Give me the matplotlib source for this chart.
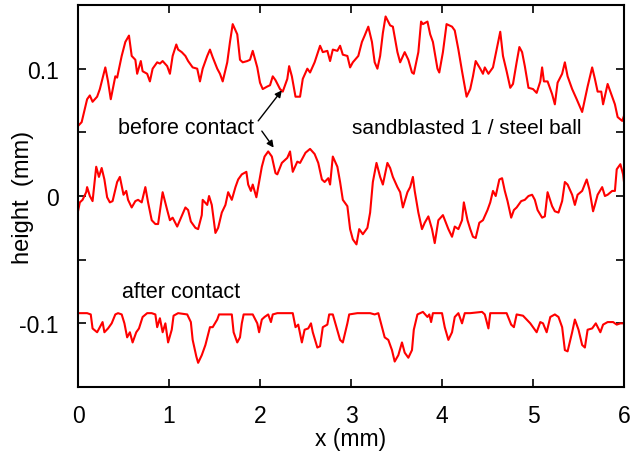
import matplotlib
matplotlib.use("Agg")
import matplotlib.pyplot as plt

plt.rcParams['font.family'] = ['Liberation Sans', 'DejaVu Sans']

# Profile before contact (upper trace), mm
top_x = [0.00, 0.04, 0.10, 0.13, 0.16, 0.21, 0.24, 0.30, 0.33, 0.36, 0.41, 0.43, 0.48, 0.52,
         0.56, 0.59, 0.63, 0.65, 0.69, 0.71, 0.76, 0.79, 0.82, 0.87, 0.90, 0.93, 0.98, 1.01,
         1.04, 1.08, 1.10, 1.14, 1.18, 1.21, 1.26, 1.31, 1.34, 1.37, 1.42, 1.45, 1.48, 1.53,
         1.56, 1.59, 1.64, 1.67, 1.70, 1.75, 1.78, 1.81, 1.86, 1.89, 1.92, 1.97, 2.00, 2.03,
         2.08, 2.11, 2.14, 2.17, 2.22, 2.25, 2.30, 2.32, 2.35, 2.39, 2.44, 2.47, 2.52, 2.55,
         2.60, 2.66, 2.69, 2.74, 2.77, 2.80, 2.85, 2.88, 2.91, 2.96, 2.99, 3.02, 3.08, 3.12,
         3.15, 3.19, 3.23, 3.26, 3.29, 3.32, 3.35, 3.38, 3.43, 3.46, 3.51, 3.54, 3.59, 3.63,
         3.67, 3.69, 3.74, 3.77, 3.79, 3.84, 3.87, 3.90, 3.95, 3.97, 4.01, 4.05, 4.11, 4.14,
         4.18, 4.22, 4.27, 4.31, 4.34, 4.37, 4.42, 4.45, 4.47, 4.51, 4.56, 4.60, 4.64, 4.67,
         4.71, 4.75, 4.78, 4.82, 4.85, 4.88, 4.91, 4.95, 5.00, 5.04, 5.08, 5.10, 5.12, 5.16,
         5.21, 5.24, 5.27, 5.32, 5.35, 5.38, 5.43, 5.48, 5.54, 5.57, 5.60, 5.65, 5.68, 5.71,
         5.75, 5.77, 5.82, 5.87, 5.90, 5.93, 5.98, 6.00]
top_y = [0.055, 0.058, 0.076, 0.079, 0.074, 0.078, 0.084, 0.101, 0.090, 0.076, 0.094, 0.093, 0.110, 0.121,
         0.126, 0.110, 0.107, 0.096, 0.106, 0.098, 0.096, 0.090, 0.100, 0.105, 0.104, 0.106, 0.102, 0.096,
         0.110, 0.119, 0.115, 0.113, 0.110, 0.106, 0.101, 0.100, 0.090, 0.100, 0.110, 0.115, 0.109, 0.100,
         0.096, 0.090, 0.105, 0.121, 0.135, 0.127, 0.107, 0.105, 0.106, 0.107, 0.114, 0.101, 0.089, 0.084,
         0.086, 0.087, 0.094, 0.091, 0.084, 0.082, 0.092, 0.102, 0.094, 0.078, 0.078, 0.092, 0.100, 0.097,
         0.105, 0.118, 0.113, 0.114, 0.106, 0.115, 0.114, 0.118, 0.111, 0.110, 0.101, 0.105, 0.110, 0.121,
         0.126, 0.133, 0.121, 0.105, 0.100, 0.110, 0.128, 0.141, 0.134, 0.133, 0.113, 0.105, 0.113, 0.107,
         0.097, 0.096, 0.113, 0.137, 0.135, 0.137, 0.127, 0.121, 0.100, 0.097, 0.113, 0.135, 0.133, 0.130,
         0.115, 0.098, 0.078, 0.084, 0.094, 0.106, 0.100, 0.096, 0.101, 0.096, 0.101, 0.115, 0.129, 0.110,
         0.098, 0.085, 0.088, 0.105, 0.117, 0.113, 0.102, 0.085, 0.084, 0.081, 0.090, 0.101, 0.090, 0.090,
         0.080, 0.072, 0.089, 0.096, 0.105, 0.094, 0.084, 0.076, 0.066, 0.076, 0.086, 0.101, 0.092, 0.082,
         0.082, 0.072, 0.088, 0.078, 0.072, 0.062, 0.059, 0.063]

# Second profile before contact (middle trace), mm
mid_x = [0.00, 0.02, 0.05, 0.09, 0.10, 0.13, 0.16, 0.20, 0.23, 0.26, 0.29, 0.32, 0.35, 0.38,
         0.43, 0.46, 0.50, 0.53, 0.55, 0.59, 0.63, 0.66, 0.70, 0.74, 0.77, 0.81, 0.85, 0.88,
         0.91, 0.93, 0.98, 1.01, 1.04, 1.09, 1.12, 1.18, 1.21, 1.24, 1.29, 1.32, 1.36, 1.37,
         1.42, 1.44, 1.47, 1.51, 1.54, 1.58, 1.62, 1.65, 1.69, 1.73, 1.76, 1.80, 1.85, 1.87,
         1.90, 1.92, 1.96, 1.99, 2.02, 2.05, 2.09, 2.13, 2.17, 2.19, 2.24, 2.30, 2.33, 2.36,
         2.41, 2.44, 2.50, 2.55, 2.60, 2.64, 2.68, 2.71, 2.75, 2.77, 2.80, 2.85, 2.88, 2.91,
         2.96, 2.99, 3.02, 3.06, 3.09, 3.13, 3.18, 3.21, 3.24, 3.28, 3.32, 3.35, 3.40, 3.43,
         3.46, 3.51, 3.54, 3.57, 3.62, 3.65, 3.68, 3.70, 3.74, 3.78, 3.81, 3.85, 3.89, 3.92,
         3.96, 4.01, 4.07, 4.11, 4.14, 4.18, 4.22, 4.24, 4.28, 4.31, 4.34, 4.37, 4.41, 4.45,
         4.50, 4.53, 4.56, 4.59, 4.63, 4.66, 4.69, 4.72, 4.76, 4.79, 4.82, 4.87, 4.91, 4.95,
         4.99, 5.02, 5.05, 5.10, 5.13, 5.16, 5.21, 5.24, 5.28, 5.32, 5.35, 5.38, 5.43, 5.46,
         5.49, 5.54, 5.59, 5.62, 5.66, 5.68, 5.71, 5.76, 5.79, 5.82, 5.87, 5.90, 5.92, 5.96,
         5.99, 6.00]
mid_y = [-0.012, -0.005, -0.003, 0.003, 0.007, 0.000, -0.004, 0.023, 0.015, 0.022, 0.013, -0.001, -0.005, -0.004,
         0.011, 0.015, 0.001, 0.004, -0.003, -0.009, -0.004, -0.003, -0.005, 0.007, -0.005, -0.019, -0.022, -0.022,
         -0.007, 0.003, -0.011, -0.019, -0.017, -0.024, -0.019, -0.009, -0.011, -0.020, -0.025, -0.026, -0.015, -0.003,
         -0.007, 0.000, -0.007, -0.029, -0.025, -0.013, -0.007, 0.003, -0.003, 0.007, 0.013, 0.017, 0.019, 0.009,
         0.004, 0.009, -0.001, 0.011, 0.023, 0.031, 0.035, 0.031, 0.018, 0.017, 0.026, 0.030, 0.035, 0.019,
         0.027, 0.026, 0.034, 0.037, 0.033, 0.026, 0.013, 0.011, 0.014, 0.009, 0.031, 0.023, 0.011, -0.003,
         -0.008, -0.026, -0.034, -0.038, -0.026, -0.030, -0.025, -0.013, 0.011, 0.026, 0.015, 0.009, 0.026, 0.022,
         0.015, 0.007, 0.003, -0.009, 0.003, 0.007, 0.015, 0.004, -0.013, -0.026, -0.021, -0.016, -0.026, -0.037,
         -0.019, -0.015, -0.026, -0.032, -0.024, -0.026, -0.019, -0.005, -0.019, -0.026, -0.032, -0.033, -0.021, -0.019,
         -0.011, -0.005, 0.004, 0.000, 0.013, 0.014, 0.004, -0.004, -0.017, -0.011, -0.009, -0.004, -0.003, 0.000,
         0.001, -0.003, -0.011, -0.017, -0.016, 0.003, -0.008, -0.012, -0.013, -0.004, 0.011, 0.009, 0.001, -0.007,
         0.001, 0.004, 0.013, 0.005, -0.012, -0.007, 0.001, 0.007, 0.000, 0.001, 0.004, 0.004, 0.021, 0.025,
         0.017, 0.011]

# Profile after contact (lower trace), mm
bot_x = [0.00, 0.10, 0.14, 0.16, 0.21, 0.24, 0.27, 0.29, 0.33, 0.37, 0.41, 0.44, 0.48, 0.51,
         0.54, 0.57, 0.60, 0.64, 0.67, 0.71, 0.76, 0.81, 0.85, 0.87, 0.90, 0.93, 0.96, 0.99,
         1.03, 1.05, 1.10, 1.20, 1.24, 1.26, 1.30, 1.32, 1.36, 1.40, 1.45, 1.48, 1.53, 1.55,
         1.62, 1.69, 1.71, 1.75, 1.78, 1.80, 1.82, 1.87, 1.92, 1.97, 1.99, 2.02, 2.05, 2.09,
         2.12, 2.14, 2.19, 2.36, 2.39, 2.42, 2.46, 2.49, 2.53, 2.56, 2.58, 2.63, 2.66, 2.69,
         2.74, 2.76, 2.80, 2.84, 2.88, 2.91, 2.96, 2.98, 3.07, 3.21, 3.26, 3.30, 3.33, 3.37,
         3.41, 3.45, 3.48, 3.52, 3.56, 3.59, 3.63, 3.67, 3.69, 3.73, 3.79, 3.84, 3.86, 3.88,
         3.90, 4.00, 4.03, 4.07, 4.11, 4.14, 4.18, 4.22, 4.25, 4.31, 4.44, 4.47, 4.51, 4.53,
         4.62, 4.71, 4.76, 4.79, 4.82, 4.89, 4.93, 4.97, 5.00, 5.04, 5.08, 5.11, 5.15, 5.19,
         5.24, 5.28, 5.32, 5.35, 5.38, 5.43, 5.46, 5.50, 5.54, 5.57, 5.60, 5.65, 5.69, 5.74,
         5.77, 5.82, 5.88, 5.92, 5.96, 6.00]
bot_y = [-0.092, -0.092, -0.093, -0.104, -0.107, -0.103, -0.099, -0.107, -0.104, -0.100, -0.093, -0.092, -0.093, -0.100,
         -0.111, -0.107, -0.115, -0.107, -0.104, -0.095, -0.092, -0.092, -0.093, -0.103, -0.096, -0.107, -0.100, -0.115,
         -0.105, -0.094, -0.092, -0.093, -0.099, -0.113, -0.126, -0.131, -0.125, -0.117, -0.103, -0.103, -0.097, -0.093,
         -0.093, -0.093, -0.107, -0.115, -0.111, -0.100, -0.093, -0.093, -0.093, -0.100, -0.107, -0.097, -0.095, -0.093,
         -0.099, -0.093, -0.092, -0.092, -0.103, -0.101, -0.115, -0.105, -0.104, -0.100, -0.107, -0.119, -0.118, -0.103,
         -0.101, -0.093, -0.093, -0.103, -0.113, -0.115, -0.100, -0.093, -0.092, -0.092, -0.093, -0.092, -0.100, -0.111,
         -0.113, -0.121, -0.130, -0.125, -0.115, -0.123, -0.127, -0.121, -0.105, -0.093, -0.091, -0.095, -0.093, -0.099,
         -0.092, -0.092, -0.103, -0.113, -0.107, -0.095, -0.092, -0.100, -0.092, -0.092, -0.091, -0.093, -0.104, -0.092,
         -0.092, -0.092, -0.101, -0.103, -0.093, -0.094, -0.097, -0.100, -0.103, -0.107, -0.099, -0.100, -0.107, -0.095,
         -0.093, -0.095, -0.103, -0.121, -0.122, -0.107, -0.097, -0.105, -0.117, -0.119, -0.105, -0.104, -0.100, -0.107,
         -0.101, -0.099, -0.099, -0.101, -0.100, -0.100]

x_ticks = [0, 1, 2, 3, 4, 5, 6]
y_ticks = [-0.15, -0.1, -0.05, 0, 0.05, 0.1, 0.15]
y_tick_labels = ['', '-0.1', '', '0', '', '0.1', '']

fig = plt.figure(figsize=(6.41, 4.56), dpi=100)
ax = fig.add_axes([0.1217, 0.1491, 0.8518, 0.8377])

line_kw = dict(color='#ff0000', lw=1.5)
ax.plot(top_x, top_y, **line_kw)
ax.plot(mid_x, mid_y, **line_kw)
ax.plot(bot_x, bot_y, **line_kw)

ax.set_xlim(0, 6)
ax.set_ylim(-0.15, 0.15)
ax.set_xticks(x_ticks)
ax.set_xticklabels([str(t) for t in x_ticks])
ax.set_yticks(y_ticks)
ax.set_yticklabels(y_tick_labels)
ax.tick_params(direction='in', length=6, width=1.2, labelsize=16.5,
               top=True, right=True)
ax.tick_params(axis='x', pad=12)
ax.tick_params(axis='y', pad=14)
for s in ax.spines.values():
    s.set_linewidth(1.5)

ax.set_xlabel('x (mm)', fontsize=16.5, labelpad=0)
ax.set_ylabel('height  (mm)', fontsize=17)
ax.yaxis.set_label_coords(-0.081, 0.5)

txt_kw = dict(fontsize=15.5, va='center', ha='left')
ax.text(0.44, 0.054, 'before contact', **txt_kw)
ax.text(3.01, 0.054, 'sandblasted 1 / steel ball', fontsize=15, va='center', ha='left')
ax.text(0.48, -0.075, 'after contact', **txt_kw)

arrow_kw = dict(arrowstyle='-|>', color='black', lw=1.0, mutation_scale=10,
                shrinkA=0, shrinkB=0)
ax.annotate('', xy=(2.24, 0.083), xytext=(1.98, 0.059), arrowprops=arrow_kw)
ax.annotate('', xy=(2.15, 0.038), xytext=(2.02, 0.051), arrowprops=arrow_kw)

fig.savefig('out.png', dpi=100)
